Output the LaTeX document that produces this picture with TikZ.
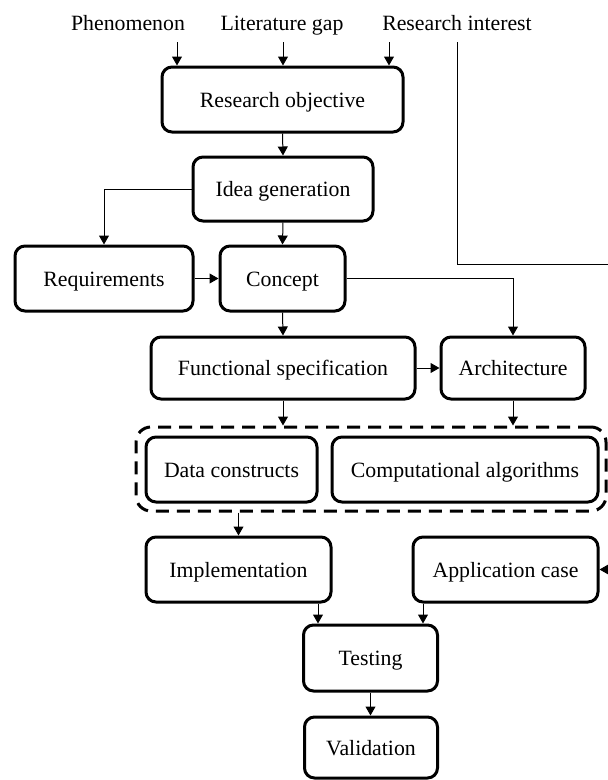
\documentclass[tikz,border=0pt]{standalone}
\usepackage{fontspec}
\setmainfont{Liberation Serif}
\usetikzlibrary{arrows.meta}
\begin{document}
\begin{tikzpicture}[x=1pt,y=-1pt,
  txt/.style={font=\fontsize{21.8}{26}\selectfont, text height=15.6pt, text depth=0pt},
  box/.style={txt, draw=black, line width=3pt, rounded corners=10pt, inner sep=0pt, align=center},
  lbl/.style={txt, inner sep=0pt},
  arr/.style={line width=1pt, -{Triangle[length=9pt,width=10pt]}},
  ln/.style={line width=1pt},
  grpbox/.style={draw=black, line width=3pt, rounded corners=15pt, dash pattern=on 13pt off 8pt, inner sep=0pt}]
\useasboundingbox (0,0) rectangle (608,780);

% top labels
\node[lbl] (ph) at (128,23) {Phenomenon};
\node[lbl] (lg) at (282,23) {Literature gap};
\node[lbl] (ri) at (457,23) {Research interest};

% boxes
\node[box, minimum width=241pt, minimum height=65pt] (RO) at (282.5,99.5) {Research objective};
\node[box, minimum width=180pt, minimum height=64pt] (IG) at (283,189) {Idea generation};
\node[box, minimum width=178pt, minimum height=65pt] (RQ) at (104,278.5) {Requirements};
\node[box, minimum width=125pt, minimum height=65pt] (CO) at (282.5,278.5) {Concept};
\node[box, minimum width=264pt, minimum height=62pt] (FS) at (283,368) {Functional specification};
\node[box, minimum width=144pt, minimum height=62pt] (AR) at (513,368) {Architecture};
\node[grpbox, minimum width=470pt, minimum height=84pt] (GR) at (371,469) {};
\node[box, minimum width=171pt, minimum height=65pt] (DC) at (231.5,469.5) {Data constructs};
\node[box, minimum width=266pt, minimum height=65pt] (CA) at (465,469.5) {Computational algorithms};
\node[box, minimum width=185pt, minimum height=65pt] (IM) at (238.5,569.5) {Implementation};
\node[box, minimum width=185pt, minimum height=65pt] (AC) at (505.5,569.5) {Application case};
\node[box, minimum width=134pt, minimum height=66pt] (TE) at (370.5,658) {Testing};
\node[box, minimum width=133pt, minimum height=61pt] (VA) at (371,747.5) {Validation};

% connector helper coordinates
\coordinate (t1) at (177,42);
\coordinate (t2) at (283,42);
\coordinate (t3) at (389,42);
\coordinate (r0) at (457,42);
\coordinate (r1) at (457,264);
\coordinate (r2) at (608,264);
\coordinate (ae) at (608,569.5);
\coordinate (te1) at ([xshift=-52.5pt]TE.north);
\coordinate (te2) at ([xshift=52.5pt]TE.north);

% connectors
\draw[arr] (t1) -- (t1 |- RO.north);
\draw[arr] (t2) -- (t2 |- RO.north);
\draw[arr] (t3) -- (t3 |- RO.north);
\draw[ln] (r0) -- (r1) -- (r2);
\draw[arr] (RO.south) -- (IG.north);
\draw[arr] (IG.west) -| (RQ.north);
\draw[arr] (IG.south) -- (CO.north);
\draw[arr] (RQ.east) -- (CO.west);
\draw[arr] (CO.east) -| (AR.north);
\draw[arr] (CO.south) -- (FS.north);
\draw[arr] (FS.east) -- (AR.west);
\draw[arr] (FS.south) -- (FS.south |- GR.north);
\draw[arr] (AR.south) -- (AR.south |- GR.north);
\draw[arr] (GR.south -| IM.north) -- (IM.north);
\draw[arr] (ae) -- (AC.east);
\draw[arr] (IM.south -| te1) -- (te1);
\draw[arr] (AC.south -| te2) -- (te2);
\draw[arr] (TE.south) -- (TE.south |- VA.north);
\end{tikzpicture}
\end{document}
